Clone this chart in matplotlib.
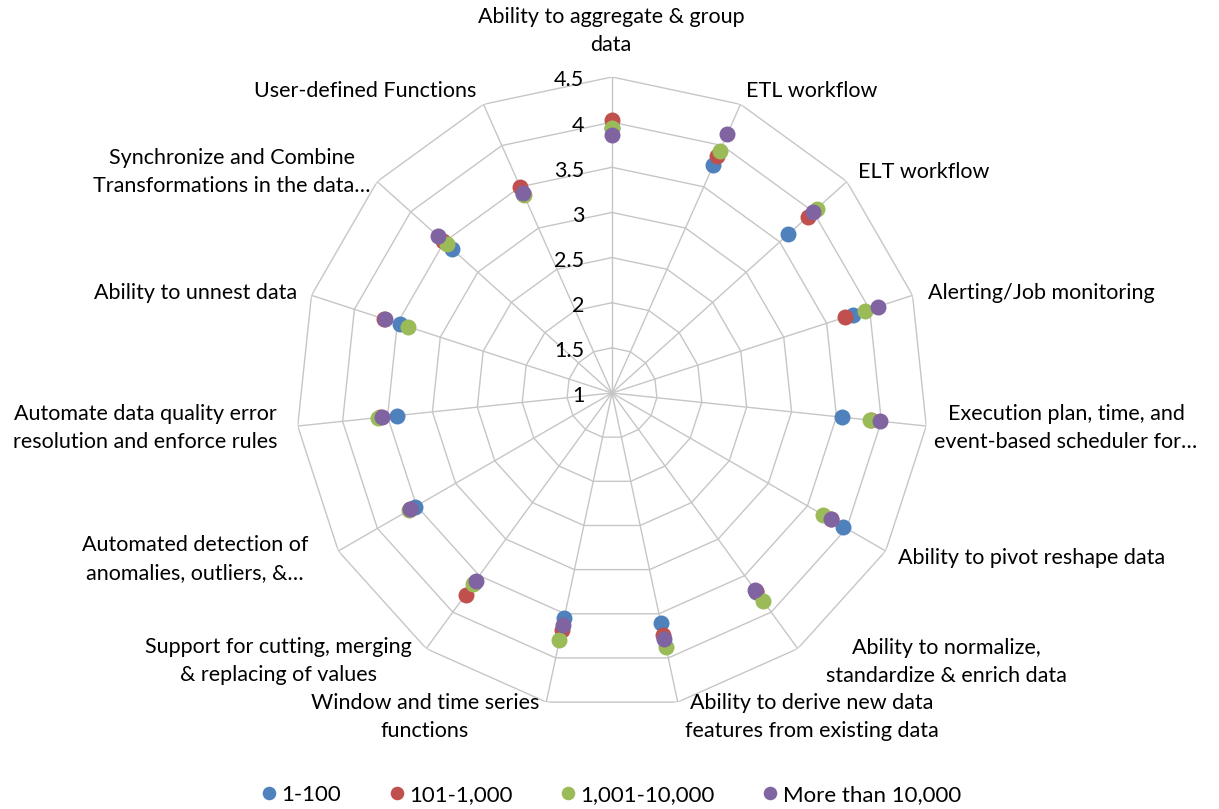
import numpy as np
import matplotlib
matplotlib.use("Agg")
import matplotlib.pyplot as plt
import matplotlib.transforms as mtrans

plt.rcParams['font.family'] = ['Lato', 'DejaVu Sans']

categories = [
    "Ability to aggregate & group\ndata",
    "ETL workflow",
    "ELT workflow",
    "Alerting/Job monitoring",
    "Execution plan, time, and\nevent-based scheduler for…",
    "Ability to pivot reshape data",
    "Ability to normalize,\nstandardize & enrich data",
    "Ability to derive new data\nfeatures from existing data",
    "Window and time series\nfunctions",
    "Support for cutting, merging\n& replacing of values",
    "Automated detection of\nanomalies, outliers, &…",
    "Automate data quality error\nresolution and enforce rules",
    "Ability to unnest data",
    "Synchronize and Combine\nTransformations in the data…",
    "User-defined Functions",
]

series_names = ["1-100", "101-1,000", "1,001-10,000", "More than 10,000"]
s_1_100 =      [3.94, 3.76, 3.63, 3.81, 3.56, 3.96, 3.72, 3.61, 3.55, 3.60, 3.52, 3.40, 3.47, 3.38, 3.41]
s_101_1000 =   [4.02, 3.87, 3.92, 3.71, 3.88, 3.80, 3.71, 3.74, 3.68, 3.76, 3.58, 3.58, 3.65, 3.52, 3.50]
s_1001_10000 = [3.93, 3.94, 4.05, 3.95, 3.87, 3.70, 3.85, 3.88, 3.80, 3.62, 3.59, 3.61, 3.37, 3.46, 3.40]
s_10000plus =  [3.86, 4.14, 3.99, 4.10, 3.99, 3.80, 3.70, 3.79, 3.63, 3.57, 3.58, 3.56, 3.64, 3.60, 3.42]
series = [s_1_100, s_101_1000, s_1001_10000, s_10000plus]
colors = ["#4F81BD", "#C0504D", "#9BBB59", "#8064A2"]

r_ticks = [1, 1.5, 2, 2.5, 3, 3.5, 4, 4.5]
r_tick_labels = ["1", "1.5", "2", "2.5", "3", "3.5", "4", "4.5"]

W, H = 1219, 809
fig = plt.figure(figsize=(W / 100, H / 100), dpi=100)
cx, cy, R = 612, 393, 316
ax = fig.add_axes([(cx - R) / W, (H - cy - R) / H, 2 * R / W, 2 * R / H], projection='polar')
ax.set_theta_zero_location('N')
ax.set_theta_direction(-1)
ax.set_ylim(1, 4.5)
ax.grid(False)
ax.set_xticks([])
ax.set_yticks([])
ax.spines['polar'].set_visible(False)
ax.patch.set_alpha(0)

n = len(categories)
theta = np.arange(n) * 2 * np.pi / n
theta_closed = np.append(theta, theta[0])
grid_c = "#C6C6C6"
for v in r_ticks[1:]:
    ax.plot(theta_closed, [v] * (n + 1), color=grid_c, lw=1.0, zorder=1)
for th in theta:
    ax.plot([th, th], [1, 4.5], color=grid_c, lw=1.0, zorder=1)

for vals, c, name in zip(series, colors, series_names):
    ax.plot(theta, vals, linestyle='none', marker='o', markersize=11.5,
            color=c, markeredgewidth=0, label=name, zorder=3)

off = mtrans.offset_copy(ax.transData, fig=fig, x=-20, y=-2.5, units='points')
for v, lab in zip(r_ticks, r_tick_labels):
    ax.text(0, v, lab, transform=off, ha='right', va='center', fontsize=15.5, color='black')

# category label placements (pixel coords, alignment)
label_pos = [
    (611, 31, 'center'),
    (746, 91, 'left'),
    (858, 172, 'left'),
    (928, 293, 'left'),
    (1066, 428, 'center'),
    (898, 558, 'left'),
    (946, 662, 'center'),
    (812, 717, 'center'),
    (425, 717, 'center'),
    (278, 661, 'center'),
    (195, 559, 'center'),
    (145, 428, 'center'),
    (297, 293, 'right'),
    (232, 172, 'center'),
    (476, 91, 'right'),
]
for lab, (x, y, ha) in zip(categories, label_pos):
    fig.text(x / W, 1 - y / H, lab, ha=ha, va='center', multialignment='center',
             fontsize=15.5, linespacing=1.5, color='black')

handles, labels = ax.get_legend_handles_labels()
leg = fig.legend(handles, labels, loc='center', bbox_to_anchor=(0.5, 1 - 795 / H), ncol=4,
                 frameon=False, fontsize=16, handletextpad=0.05, columnspacing=2.0,
                 markerscale=0.85, handlelength=1.0)

fig.savefig("out.png", dpi=100)
